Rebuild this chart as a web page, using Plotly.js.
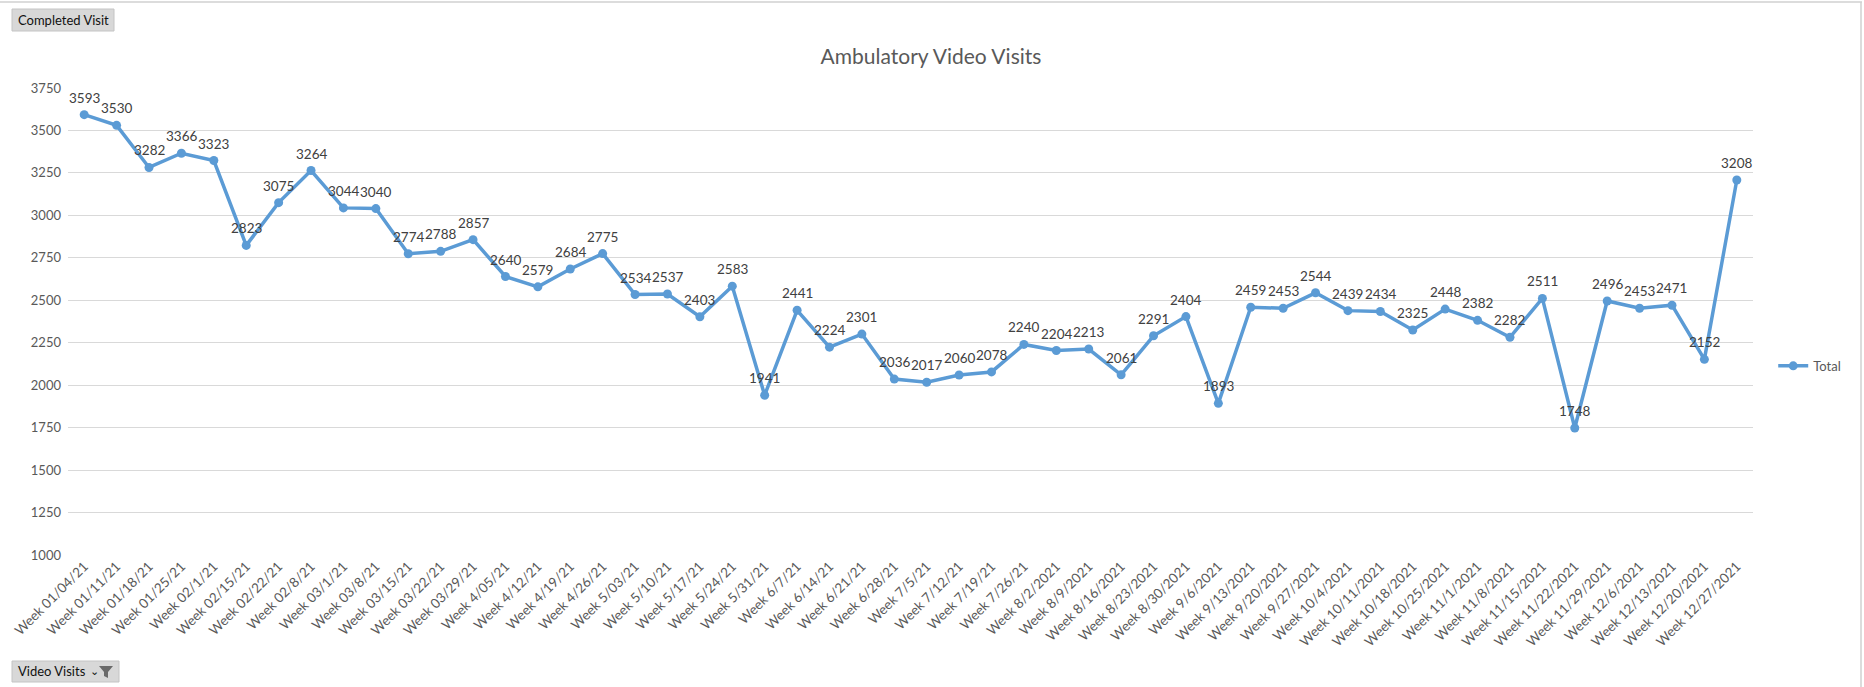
<!DOCTYPE html>
<html>
<head>
<meta charset="utf-8">
<script src="https://cdn.plot.ly/plotly-3.0.1.min.js"></script>
<style>
html,body{margin:0;padding:0;background:#fff;}
#chart{width:1864px;height:687px;}
</style>
</head>
<body>
<div id="chart"></div>
<script>
const weeks = [
  "Week 01/04/21","Week 01/11/21","Week 01/18/21","Week 01/25/21","Week 02/1/21",
  "Week 02/15/21","Week 02/22/21","Week 02/8/21","Week 03/1/21","Week 03/8/21",
  "Week 03/15/21","Week 03/22/21","Week 03/29/21","Week 4/05/21","Week 4/12/21",
  "Week 4/19/21","Week 4/26/21","Week 5/03/21","Week 5/10/21","Week 5/17/21",
  "Week 5/24/21","Week 5/31/21","Week 6/7/21","Week 6/14/21","Week 6/21/21",
  "Week 6/28/21","Week 7/5/21","Week 7/12/21","Week 7/19/21","Week 7/26/21",
  "Week 8/2/2021","Week 8/9/2021","Week 8/16/2021","Week 8/23/2021","Week 8/30/2021",
  "Week 9/6/2021","Week 9/13/2021","Week 9/20/2021","Week 9/27/2021","Week 10/4/2021",
  "Week 10/11/2021","Week 10/18/2021","Week 10/25/2021","Week 11/1/2021","Week 11/8/2021",
  "Week 11/15/2021","Week 11/22/2021","Week 11/29/2021","Week 12/6/2021","Week 12/13/2021",
  "Week 12/20/2021","Week 12/27/2021"
];
const totals = [
  3593,3530,3282,3366,3323,
  2823,3075,3264,3044,3040,
  2774,2788,2857,2640,2579,
  2684,2775,2534,2537,2403,
  2583,1941,2441,2224,2301,
  2036,2017,2060,2078,2240,
  2204,2213,2061,2291,2404,
  1893,2459,2453,2544,2439,
  2434,2325,2448,2382,2282,
  2511,1748,2496,2453,2471,
  2152,3208
];
const yTicks = [1000,1250,1500,1750,2000,2250,2500,2750,3000,3250,3500,3750];
const seriesName = "Total";
const chartTitle = "Ambulatory Video Visits";
const topButton = "Completed Visit";
const bottomButton = "Video Visits";

const FONT = "Lato, 'Open Sans', sans-serif";
const blue = "#5B9BD5";

// plot area in pixels
const L = 68, R = 1753, T = 88, B = 555;
const PW = R - L, PH = B - T;
const px = v => (v - L) / PW;
const py = v => (B - v) / PH;

const trace = {
  type: "scatter",
  mode: "lines+markers",
  name: seriesName,
  x: weeks,
  y: totals,
  line: {color: blue, width: 3.5},
  marker: {color: blue, size: 9},
  cliponaxis: false
};

const labelAnns = weeks.map((w, i) => ({
  x: w, y: totals[i], xref: "x", yref: "y",
  text: String(totals[i]), showarrow: false,
  yanchor: "bottom", xanchor: "center", yshift: 7,
  font: {family: FONT, size: 13.5, color: "#404040"}
}));

const layout = {
  width: 1864,
  height: 687,
  margin: {l: L, r: 1864 - R, t: T, b: 687 - B},
  paper_bgcolor: "#fff",
  plot_bgcolor: "#fff",
  font: {family: FONT, color: "#595959"},
  title: {
    text: chartTitle,
    font: {family: FONT, size: 21, color: "#595959"},
    x: 931/1864, xref: "container", xanchor: "center",
    y: 1 - 57/687, yref: "container", yanchor: "middle"
  },
  showlegend: true,
  legend: {
    x: 1.012, xanchor: "left", y: 0.405, yanchor: "middle",
    font: {family: FONT, size: 13, color: "#595959"},
    bgcolor: "rgba(0,0,0,0)"
  },
  xaxis: {
    type: "category",
    tickangle: -45,
    tickfont: {family: FONT, size: 13.5, color: "#595959"},
    showgrid: false, showline: false, zeroline: false, ticks: "",
    range: [-0.5, weeks.length - 0.5],
    fixedrange: true
  },
  yaxis: {
    range: [1000, 3750],
    tickvals: yTicks,
    ticktext: yTicks.map(String),
    tickfont: {family: FONT, size: 13, color: "#595959"},
    gridcolor: "#d9d9d9", gridwidth: 1,
    zeroline: false, showline: false, ticks: "",
    ticklabelstandoff: 6,
    fixedrange: true
  },
  shapes: [
    {type: "line", xref: "paper", yref: "paper", x0: px(0), x1: px(1862), y0: py(2), y1: py(2),
     line: {color: "#d0d0d0", width: 1.5}},
    {type: "line", xref: "paper", yref: "paper", x0: px(1861), x1: px(1861), y0: py(2), y1: py(687),
     line: {color: "#d0d0d0", width: 1.5}},
    {type: "rect", xref: "paper", yref: "paper", x0: px(12), x1: px(114), y0: py(9), y1: py(31),
     fillcolor: "#d8d8d8", line: {color: "#c4c4c4", width: 1}},
    {type: "rect", xref: "paper", yref: "paper", x0: px(12), x1: px(119), y0: py(661), y1: py(682),
     fillcolor: "#d8d8d8", line: {color: "#c4c4c4", width: 1}},
    {type: "path", xref: "paper", yref: "paper",
     path: "M " + px(99) + " " + py(666) + " L " + px(113) + " " + py(666) +
           " L " + px(108) + " " + py(672) + " L " + px(108) + " " + py(678) +
           " L " + px(104) + " " + py(676) + " L " + px(104) + " " + py(672) + " Z",
     fillcolor: "#6a6a6a", line: {width: 0}}
  ],
  annotations: labelAnns.concat([
    {
      text: topButton, xref: "paper", yref: "paper",
      x: px(16), y: py(20), xanchor: "left", yanchor: "middle",
      showarrow: false, font: {family: FONT, size: 13, color: "#111"}
    },
    {
      text: bottomButton, xref: "paper", yref: "paper",
      x: px(16), y: py(671), xanchor: "left", yanchor: "middle",
      showarrow: false, font: {family: FONT, size: 13, color: "#111"}
    },
    {
      text: "\u2304", xref: "paper", yref: "paper",
      x: px(94), y: py(670), xanchor: "center", yanchor: "middle",
      showarrow: false, font: {family: FONT, size: 11, color: "#111"}
    }
  ])
};

Plotly.newPlot("chart", [trace], layout, {displayModeBar: false, staticPlot: true});
</script>
</body>
</html>
